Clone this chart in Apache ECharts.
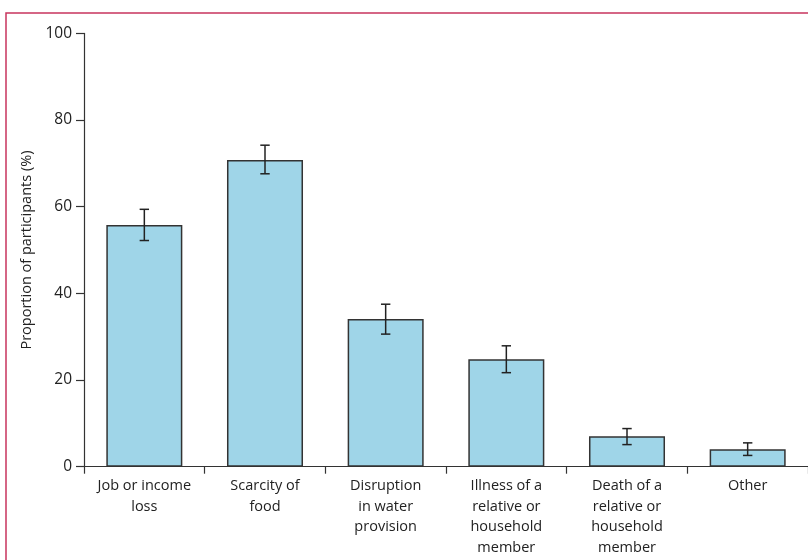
<!DOCTYPE html>
<html><head><meta charset="utf-8">
<script src="https://cdn.jsdelivr.net/npm/echarts@6/dist/echarts.min.js"></script>
<style>html,body{margin:0;padding:0;background:#fff}#c{width:808px;height:560px}</style>
</head><body><div id="c"></div>
<script>
const categories = ["Job or income\nloss", "Scarcity of\nfood", "Disruption\nin water\nprovision", "Illness of a\nrelative or\nhousehold\nmember", "Death of a\nrelative or\nhousehold\nmember", "Other"];
const values = [55.8, 70.8, 34.1, 24.8, 7.0, 4.0];
const errLow = [52.2, 67.6, 30.6, 21.7, 5.1, 2.6];
const errHigh = [59.4, 74.2, 37.5, 27.9, 8.8, 5.5];
const yTicks = [0, 20, 40, 60, 80, 100];

const FONT = "'Open Sans', sans-serif";
const chart = echarts.init(document.getElementById('c'), null, {renderer: 'canvas'});
chart.setOption({
  animation: false,
  backgroundColor: '#fff',
  graphic: [{
    type: 'rect', shape: {x: 6, y: 13, width: 830, height: 580},
    style: {fill: 'none', stroke: '#c8355e', lineWidth: 1.5}, z: 0, silent: true
  }],
  grid: {left: 84, right: 0, top: 33.4, bottom: 93.3, containLabel: false},
  xAxis: {
    type: 'category', data: categories, boundaryGap: true,
    axisLine: {show: true, lineStyle: {color: '#333', width: 1.2}},
    axisTick: {show: true, length: 7, interval: 0, lineStyle: {color: '#333', width: 1.2}},
    axisLabel: {interval: 0, color: '#222', fontSize: 14.5, fontFamily: FONT, lineHeight: 20.5, margin: 9}
  },
  yAxis: {
    type: 'value', min: yTicks[0], max: yTicks[yTicks.length - 1], interval: 20,
    name: 'Proportion of participants (%)', nameLocation: 'middle', nameGap: 48,
    nameTextStyle: {color: '#222', fontSize: 14.5, fontFamily: FONT},
    splitLine: {show: false},
    axisLine: {show: true, lineStyle: {color: '#333', width: 1.2}},
    axisTick: {show: true, length: 8, lineStyle: {color: '#333', width: 1.2}},
    axisLabel: {color: '#222', fontSize: 15.5, fontFamily: FONT, margin: 12}
  },
  series: [{
    type: 'bar', data: values, barWidth: '63%',
    itemStyle: {color: '#9fd5e8', borderColor: '#333', borderWidth: 1.5}
  }, {
    type: 'custom',
    data: categories.map((c, i) => [i, errLow[i], errHigh[i]]),
    renderItem: function (params, api) {
      const i = api.value(0);
      const lo = api.coord([i, api.value(1)]);
      const hi = api.coord([i, api.value(2)]);
      const hw = 4.7;
      const st = {stroke: '#222', lineWidth: 1.5};
      return {type: 'group', children: [
        {type: 'line', shape: {x1: lo[0], y1: lo[1], x2: hi[0], y2: hi[1]}, style: st},
        {type: 'line', shape: {x1: lo[0] - hw, y1: lo[1], x2: lo[0] + hw, y2: lo[1]}, style: st},
        {type: 'line', shape: {x1: hi[0] - hw, y1: hi[1], x2: hi[0] + hw, y2: hi[1]}, style: st}
      ]};
    },
    z: 10
  }]
});
</script></body></html>
